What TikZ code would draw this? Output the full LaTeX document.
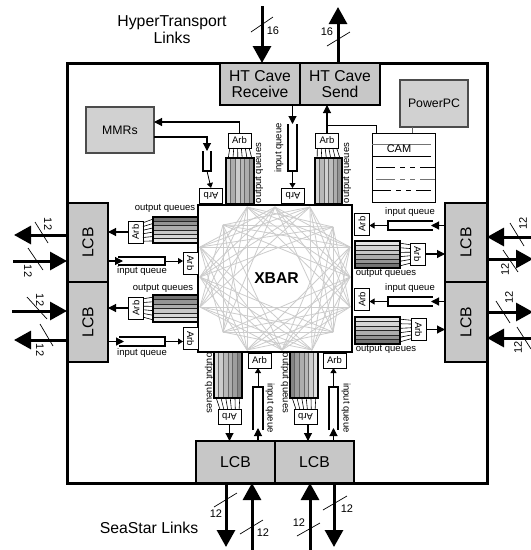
\documentclass[tikz,border=0pt]{standalone}
\usepackage{fontspec}
\setmainfont{Liberation Sans}
\usetikzlibrary{arrows.meta,calc}
\tikzset{
  chip box/.style={draw,line width=3pt,inner sep=0pt,outer sep=0pt,minimum width=420pt,minimum height=420pt},
  lcb block/.style={draw,line width=1.3pt,fill=black!22,inner sep=0pt,outer sep=0pt,align=center,
    font=\fontsize{15.7}{16.5}\selectfont},
  side block/.style={draw=black!70,line width=1.3pt,fill=black!18,inner sep=0pt,outer sep=0pt,
    font=\fontsize{12.3}{14}\selectfont},
  arb wide/.style={draw,line width=.7pt,fill=white,inner sep=0pt,outer sep=0pt,minimum width=23pt,
    minimum height=15pt,font=\fontsize{9.5}{10}\selectfont},
  arb tall/.style={arb wide,minimum width=15pt,minimum height=22pt},
  queue box/.style={inner sep=0pt,outer sep=0pt},
  queue tag/.style={inner sep=0pt,font=\fontsize{9.5}{10}\selectfont},
  bus width/.style={inner sep=0pt,font=\fontsize{11}{12}\selectfont},
  link tag/.style={inner sep=0pt,font=\fontsize{15.8}{17}\selectfont,align=center},
  bus/.style={line width=3pt,-{Triangle[length=17pt,width=18pt]}},
  bus slash/.style={line width=.7pt},
  flow/.style={line width=.8pt,-{Triangle[length=5pt,width=6pt]}},
  flow big/.style={line width=1.1pt,-{Triangle[length=8pt,width=8pt]}},
  queue wall/.style={line width=1.3pt},
  bar edge/.style={black!60,line width=.4pt},
  rail edge/.style={black!85,line width=.5pt},
  fan line/.style={line width=.6pt},
  xbar chord/.style={black!20,line width=.8pt},
  cam row/.style={line width=.8pt},
  cam dash/.style={cam row,dash pattern=on 19pt off 5pt on 5pt off 5pt on 5pt off 5pt on 19pt}
}
\newcommand{\vqueue}[2]{%
  \foreach \g [count=\i from 0] in {#2} {
    \pgfmathsetmacro{\fa}{\i/6}\pgfmathsetmacro{\fb}{(\i+1)/6}
    \fill[black!\g] ($(#1.north west)!\fa!(#1.north east)$) rectangle ($(#1.south west)!\fb!(#1.south east)$);
    \draw[bar edge] ($(#1.north west)!\fa!(#1.north east)$) -- ($(#1.south west)!\fa!(#1.south east)$);
  }
  \draw[queue wall] (#1.north west) rectangle (#1.south east);
}
\newcommand{\hqueue}[2]{%
  \foreach \g [count=\i from 0] in {#2} {
    \pgfmathsetmacro{\fa}{\i/6}\pgfmathsetmacro{\fb}{(\i+1)/6}
    \fill[black!\g] ($(#1.north west)!\fa!(#1.south west)$) rectangle ($(#1.north east)!\fb!(#1.south east)$);
    \draw[rail edge] ($(#1.north west)!\fa!(#1.south west)$) -- ($(#1.north east)!\fa!(#1.south east)$);
  }
  \draw[queue wall] (#1.north west) rectangle (#1.south east);
}
\newcommand{\fanlines}[4]{%
  \foreach \t in {0.08,0.25,0.42,0.58,0.75,0.92} {
    \draw[fan line] ($(#1)!\t!(#2)$) -- ($(#3)!\t!(#4)$);
  }
}
\newcommand{\opencup}[4]{\draw[queue wall] (#1) -- (#2) -- (#3) -- (#4);}

\begin{document}
\begin{tikzpicture}[x=1pt,y=-1pt]
  \useasboundingbox (0,0) rectangle (531,550);
  \node[chip box] (chip) at (277,273) {};

  \coordinate (busTa) at (262,6);
  \coordinate (busTb) at (338,7);
  \coordinate (busLa) at (14,235);
  \coordinate (busLb) at (13,261);
  \coordinate (busLc) at (12,311);
  \coordinate (busLd) at (14,340);
  \coordinate (busRa) at (531,237);
  \coordinate (busRb) at (533,259);
  \coordinate (busRc) at (533,312);
  \coordinate (busRd) at (531,338);
  \coordinate (busBa) at (226,547);
  \coordinate (busBb) at (252,552);
  \coordinate (busBc) at (310,552);
  \coordinate (busBd) at (334,547);
  \draw[bus] (busTa) -- (busTa |- chip.north);
  \draw[bus] (busTb |- chip.north) -- (busTb);
  \draw[bus] (chip.west |- busLa) -- (busLa);
  \draw[bus] (busLb) -- (chip.west |- busLb);
  \draw[bus] (busLc) -- (chip.west |- busLc);
  \draw[bus] (chip.west |- busLd) -- (busLd);
  \draw[bus] (busRa) -- (chip.east |- busRa);
  \draw[bus] (chip.east |- busRb) -- (busRb);
  \draw[bus] (chip.east |- busRc) -- (busRc);
  \draw[bus] (busRd) -- (chip.east |- busRd);
  \draw[bus] (busBa |- chip.south) -- (busBa);
  \draw[bus] (busBb) -- (busBb |- chip.south);
  \draw[bus] (busBc) -- (busBc |- chip.south);
  \draw[bus] (busBd |- chip.south) -- (busBd);

  \draw[bus slash] (251,32) -- (273,17);
  \draw[bus slash] (327,46) -- (350,32);
  \draw[bus slash] (35,222) -- (48,243);
  \draw[bus slash] (28,248) -- (43,270);
  \draw[bus slash] (27,297) -- (47,319);
  \draw[bus slash] (40,324) -- (53,346);
  \draw[bus slash] (510,223) -- (524,246);
  \draw[bus slash] (503,250) -- (518,272);
  \draw[bus slash] (496,301) -- (510,323);
  \draw[bus slash] (517,327) -- (531,349);
  \draw[bus slash] (214,507) -- (237,493);
  \draw[bus slash] (240,534) -- (263,520);
  \draw[bus slash] (297,536) -- (320,523);
  \draw[bus slash] (323,510) -- (347,496);

  \node[bus width] (wTa) at (273,31) {16};
  \node[bus width] (wTb) at (327,32) {16};
  \node[bus width,rotate=-90] (wLa) at (48,224) {12};
  \node[bus width,rotate=-90] (wLb) at (28,271) {12};
  \node[bus width,rotate=-90] (wLc) at (40,300) {12};
  \node[bus width,rotate=-90] (wLd) at (40,350) {12};
  \node[bus width,rotate=90] (wRa) at (523,223) {12};
  \node[bus width,rotate=90] (wRb) at (505,269) {12};
  \node[bus width,rotate=90] (wRc) at (509,297) {12};
  \node[bus width,rotate=90] (wRd) at (518,347) {12};
  \node[bus width] (wBa) at (216,514) {12};
  \node[bus width] (wBb) at (263,533) {12};
  \node[bus width] (wBc) at (299,523) {12};
  \node[bus width] (wBd) at (347,509) {12};

  \node[link tag] (htlinks) at (172,30) {HyperTransport\\Links};
  \node[link tag] (sslinks) at (149,528) {SeaStar Links};

  \node[lcb block,minimum width=80pt,minimum height=42pt] (htrecv) at (260,84) {HT Cave\\Receive};
  \node[lcb block,minimum width=80pt,minimum height=42pt] (htsend) at (340,84) {HT Cave\\Send};
  \node[lcb block,minimum width=40pt,minimum height=79pt] (lcbLa) at (88,242.5) {\rotatebox{90}{LCB}};
  \node[lcb block,minimum width=40pt,minimum height=80pt] (lcbLb) at (88,322) {\rotatebox{90}{LCB}};
  \node[lcb block,minimum width=42pt,minimum height=79pt] (lcbRa) at (466,242.5) {\rotatebox{90}{LCB}};
  \node[lcb block,minimum width=42pt,minimum height=80pt] (lcbRb) at (466,322) {\rotatebox{90}{LCB}};
  \node[lcb block,minimum width=79pt,minimum height=42pt] (lcbBa) at (235.5,462) {LCB};
  \node[lcb block,minimum width=79pt,minimum height=42pt] (lcbBb) at (314.5,462) {LCB};
  \node[side block,minimum width=68pt,minimum height=46pt] (mmrs) at (120,130) {MMRs};
  \node[side block,minimum width=68pt,minimum height=47pt] (ppc) at (434,103.5) {PowerPC};

  \node[draw,line width=.8pt,inner sep=0pt,outer sep=0pt,minimum width=63pt,minimum height=69pt] (cam) at (403.5,167.5) {};
  \draw[cam row,black!55] (372,144) -- (431,144);
  \draw[cam row] (372,156) -- (431,156);
  \draw[cam dash] (376,167) -- (435,167);
  \draw[cam dash,black!55] (376,179) -- (435,179);
  \draw[cam dash] (372,190) -- (431,190);
  \node[inner sep=0pt,font=\fontsize{11}{12}\selectfont] (camtag) at (399,149) {CAM};

  \node[queue box,minimum width=28pt,minimum height=46pt] (qTa) at (240,181) {};
  \node[queue box,minimum width=27pt,minimum height=46pt] (qTb) at (328.5,181) {};
  \node[queue box,minimum width=46pt,minimum height=26pt] (qLa) at (176,230) {};
  \node[queue box,minimum width=46pt,minimum height=27pt] (qLb) at (176,308.5) {};
  \node[queue box,minimum width=45pt,minimum height=27pt] (qRa) at (377.5,254.5) {};
  \node[queue box,minimum width=45pt,minimum height=27pt] (qRb) at (377.5,330.5) {};
  \node[queue box,minimum width=28pt,minimum height=46pt] (qBa) at (228,375) {};
  \node[queue box,minimum width=28pt,minimum height=46pt] (qBb) at (304,375) {};
  \vqueue{qTa}{20,32,20,28,32,42}
  \vqueue{qTb}{18,28,18,26,32,42}
  \hqueue{qLa}{55,42,32,22,16,10}
  \hqueue{qLb}{55,42,32,22,16,10}
  \hqueue{qRa}{10,16,22,32,42,55}
  \hqueue{qRb}{10,16,22,32,42,55}
  \vqueue{qBa}{15,20,28,32,38,48}
  \vqueue{qBb}{48,38,32,28,20,12}

  \node[queue box,minimum width=8pt,minimum height=20pt] (iqTa) at (207,161) {};
  \node[queue box,minimum width=9pt,minimum height=47pt] (iqTb) at (292.5,147.5) {};
  \node[queue box,minimum width=47pt,minimum height=8pt] (iqLa) at (141.5,261) {};
  \node[queue box,minimum width=46pt,minimum height=9pt] (iqLb) at (142,341.5) {};
  \node[queue box,minimum width=45pt,minimum height=9pt] (iqRa) at (410.5,225.5) {};
  \node[queue box,minimum width=45pt,minimum height=9pt] (iqRb) at (410.5,301.5) {};
  \node[queue box,minimum width=10pt,minimum height=43pt] (iqBa) at (258,408.5) {};
  \node[queue box,minimum width=9pt,minimum height=43pt] (iqBb) at (333.5,408.5) {};
  \opencup{iqTa.north west}{iqTa.south west}{iqTa.south east}{iqTa.north east}
  \opencup{iqTb.north west}{iqTb.south west}{iqTb.south east}{iqTb.north east}
  \opencup{iqLa.north west}{iqLa.north east}{iqLa.south east}{iqLa.south west}
  \opencup{iqLb.north west}{iqLb.north east}{iqLb.south east}{iqLb.south west}
  \opencup{iqRa.north east}{iqRa.north west}{iqRa.south west}{iqRa.south east}
  \opencup{iqRb.north east}{iqRb.north west}{iqRb.south west}{iqRb.south east}
  \opencup{iqBa.south west}{iqBa.north west}{iqBa.north east}{iqBa.south east}
  \opencup{iqBb.south west}{iqBb.north west}{iqBb.north east}{iqBb.south east}

  \node[draw,line width=1.5pt,fill=white,inner sep=0pt,outer sep=0pt,minimum width=154pt,minimum height=147pt] (xbar) at (275,278.5) {};
  \foreach \u/\v [count=\k from 0] in {247/207,275/207,310/207,333/227,350/247,350/277,350/307,333/332,
      312/350,282/350,247/350,223/332,200/307,200/277,200/247,223/225} {
    \coordinate (xb\k) at (\u,\v);
  }
  \foreach \k in {0,...,15} {
    \foreach \s in {3,4,5,6} {
      \pgfmathtruncatemacro{\m}{mod(\k+\s,16)}
      \draw[xbar chord] (xb\k) -- (xb\m);
    }
  }
  \node[inner sep=1pt,font=\fontsize{15.7}{17}\selectfont\bfseries] (xbartag) at (276.5,278.5) {XBAR};

  \node[arb wide] (arbTa) at (239.5,140.5) {Arb};
  \node[arb wide] (arbTb) at (327,140.5) {Arb};
  \node[arb wide] (arbTc) at (211,195.5) {\rotatebox{180}{Arb}};
  \node[arb wide] (arbTd) at (293,195.5) {\rotatebox{180}{Arb}};
  \node[arb tall] (arbLa) at (135.5,232) {\rotatebox{90}{Arb}};
  \node[arb tall] (arbLb) at (136,308) {\rotatebox{90}{Arb}};
  \node[arb tall] (arbLc) at (190.5,263) {\rotatebox{-90}{Arb}};
  \node[arb tall] (arbLd) at (190.5,338.5) {\rotatebox{-90}{Arb}};
  \node[arb tall] (arbRa) at (417.5,254) {\rotatebox{-90}{Arb}};
  \node[arb tall] (arbRb) at (418.5,329.5) {\rotatebox{-90}{Arb}};
  \node[arb tall] (arbRc) at (362,224) {\rotatebox{90}{Arb}};
  \node[arb tall] (arbRd) at (362,299.5) {\rotatebox{90}{Arb}};
  \node[arb wide] (arbBa) at (229.5,416.5) {\rotatebox{180}{Arb}};
  \node[arb wide] (arbBb) at (305.5,416.5) {\rotatebox{180}{Arb}};
  \node[arb wide] (arbBc) at (259.5,360.5) {Arb};
  \node[arb wide] (arbBd) at (334.5,360.5) {Arb};

  \fanlines{arbTa.south west}{arbTa.south east}{qTa.north west}{qTa.north east}
  \fanlines{arbTb.south west}{arbTb.south east}{qTb.north west}{qTb.north east}
  \fanlines{arbLa.north east}{arbLa.south east}{qLa.north west}{qLa.south west}
  \fanlines{arbLb.north east}{arbLb.south east}{qLb.north west}{qLb.south west}
  \fanlines{arbRa.north west}{arbRa.south west}{qRa.north east}{qRa.south east}
  \fanlines{arbRb.north west}{arbRb.south west}{qRb.north east}{qRb.south east}
  \fanlines{arbBa.north west}{arbBa.north east}{qBa.south west}{qBa.south east}
  \fanlines{arbBb.north west}{arbBb.north east}{qBb.south west}{qBb.south east}

  \draw[flow big] (arbTa.north) |- ([yshift=8pt]mmrs.east);
  \draw[flow big] ([yshift=-7pt]mmrs.east) -| (iqTa.north);
  \draw[flow] (iqTa.south) -- (arbTc.north);
  \draw[flow big] (htrecv.south -| iqTb) -- (iqTb.north);
  \draw[flow] (iqTb.south) -- (iqTb.south |- arbTd.north);
  \draw[flow big] (arbTb.north) -- (arbTb.north |- htsend.south);
  \coordinate (camtap) at (328,125);
  \draw[line width=.8pt] (camtap) -| ([xshift=-27.5pt]cam.north);
  \draw[black!60,line width=.8pt] ([xshift=-22pt]ppc.south) -- ([xshift=-22pt]ppc.south |- cam.north);

  \draw[flow big] (arbLa.west) -- (lcbLa.east |- arbLa.west);
  \draw[flow big] (arbLb.west) -- (lcbLb.east |- arbLb.west);
  \draw[flow big] (lcbLa.east |- iqLa.west) -- ([xshift=5pt]iqLa.west);
  \draw[flow big] (lcbLb.east |- iqLb.west) -- ([xshift=5pt]iqLb.west);
  \draw[flow] (iqLa.east) -- (arbLc.west |- iqLa.east);
  \draw[flow] (iqLb.east) -- (arbLd.west |- iqLb.east);

  \draw[flow big] (arbRa.east) -- (lcbRa.west |- arbRa.east);
  \draw[flow big] (arbRb.east) -- (lcbRb.west |- arbRb.east);
  \draw[flow big] (lcbRa.west |- iqRa.east) -- ([xshift=-2pt]iqRa.east);
  \draw[flow big] (lcbRb.west |- iqRb.east) -- ([xshift=-2pt]iqRb.east);
  \draw[flow] (iqRa.west) -- (arbRc.east |- iqRa.west);
  \draw[flow] (iqRb.west) -- (arbRd.east |- iqRb.west);

  \draw[flow big] (arbBa.south) -- (arbBa.south |- lcbBa.north);
  \draw[flow big] ([xshift=2.5pt]arbBb.south) -- ([xshift=2.5pt]arbBb.south |- lcbBb.north);
  \draw[flow big] (iqBa.south |- lcbBa.north) -- ([yshift=2pt]iqBa.south);
  \draw[flow big] (iqBb.south |- lcbBb.north) -- ([yshift=2pt]iqBb.south);
  \draw[flow] (iqBa.north) -- (iqBa.north |- arbBc.south);
  \draw[flow] (iqBb.north) -- (iqBb.north |- arbBd.south);

  \node[queue tag,rotate=90] (tagTa) at (259,173) {output queues};
  \node[queue tag,rotate=90] (tagTb) at (347,173) {output queues};
  \node[queue tag,rotate=90] (tagTc) at (279,148) {input queue};
  \node[queue tag] (tagLa) at (165,208) {output queues};
  \node[queue tag] (tagLb) at (163,288) {output queues};
  \node[queue tag] (tagLc) at (142,271) {input queue};
  \node[queue tag] (tagLd) at (142,353) {input queue};
  \node[queue tag] (tagRa) at (386,273) {output queues};
  \node[queue tag] (tagRb) at (386,349) {output queues};
  \node[queue tag] (tagRc) at (410,212) {input queue};
  \node[queue tag] (tagRd) at (410,288) {input queue};
  \node[queue tag,rotate=-90] (tagBa) at (209,383) {output queues};
  \node[queue tag,rotate=-90] (tagBb) at (285,383) {output queues};
  \node[queue tag,rotate=-90] (tagBc) at (270,408) {input queue};
  \node[queue tag,rotate=-90] (tagBd) at (346,408) {input queue};
\end{tikzpicture}
\end{document}
